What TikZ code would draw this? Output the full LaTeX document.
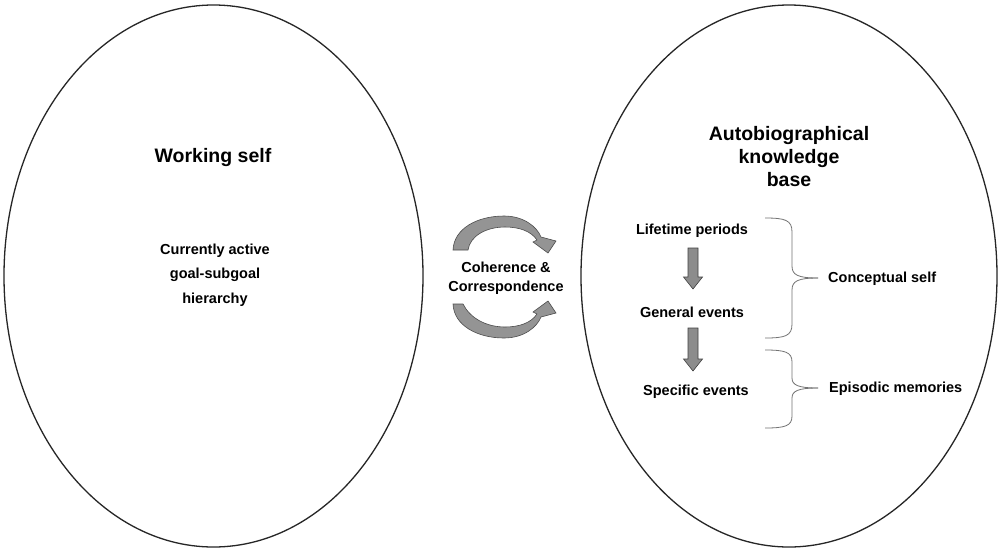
\documentclass[tikz,border=0pt]{standalone}
\usepackage{fontspec}
\setmainfont{Liberation Sans}
\begin{document}
\begin{tikzpicture}[x=1pt,y=-1pt,
  oval/.style={draw=black!85,line width=1.3pt},
  head/.style={font=\bfseries\fontsize{19.5}{23}\selectfont,align=center,inner sep=0pt},
  lbl/.style={font=\bfseries\fontsize{14.5}{24.5}\selectfont,align=center,inner sep=0pt},
  brace/.style={draw=black!55,line width=0.8pt},
  darrow/.style={fill=black!45,draw=black!75,line width=0.6pt},
  carrow/.style={fill=black!42,draw=black!70,line width=0.6pt}]
\useasboundingbox (0,0) rectangle (999,550);
\fill[white] (0,0) rectangle (999,550);
% ellipses
\draw[oval] (213.5,276) ellipse [x radius=209.5,y radius=271];
\draw[oval] (789,276) ellipse [x radius=208,y radius=271];
% left texts
\node[head] (ws) at (213,157) {Working self};
\node[lbl] (cur) at (215,275) {Currently active\\goal-subgoal\\hierarchy};
% right heading
\node[head] (akb) at (789,157) {Autobiographical\\knowledge\\base};
% centre
\node[lbl,font=\bfseries\fontsize{14.5}{19}\selectfont] (coh) at (506,278.5) {Coherence \&\\Correspondence};
% circular arrows
\draw[carrow] (453,250) .. controls (454,228) and (478,216) .. (504,216)
  .. controls (524,216) and (537,227) .. (541,237)
  -- (556,241) -- (548,253) -- (533,242) -- (537,240)
  .. controls (531,231) and (519,227) .. (505,227)
  .. controls (486,227) and (470,236) .. (468,250) -- cycle;
\draw[carrow] (453,304) .. controls (454,326) and (478,338) .. (504,338)
  .. controls (524,338) and (537,327) .. (541,317)
  -- (556,313) -- (548,301) -- (533,312) -- (537,314)
  .. controls (531,323) and (519,327) .. (505,327)
  .. controls (486,327) and (470,318) .. (463,304) -- cycle;
% knowledge levels
\node[lbl] (lp) at (692,231) {Lifetime periods};
\node[lbl] (ge) at (692,312) {General events};
\node[lbl] (se) at (696,392) {Specific events};
\draw[darrow] (688,248) -- (698,248) -- (698,277) -- (702.5,277) -- (693,289) -- (683.5,277) -- (688,277) -- cycle;
\draw[darrow] (688,328) -- (698,328) -- (698,359) -- (702.5,359) -- (693,371) -- (683.5,359) -- (688,359) -- cycle;
% braces
\draw[brace] (765,218) .. controls (785,218) and (792,220) .. (792,232) -- (792,266)
  .. controls (792,275) and (798,278) .. (818,278);
\draw[brace] (765,338) .. controls (785,338) and (792,336) .. (792,324) -- (792,290)
  .. controls (792,281) and (798,278) .. (818,278);
\draw[brace] (765,350) .. controls (785,350) and (792,352) .. (792,362) -- (792,378)
  .. controls (792,385) and (798,388) .. (818,388);
\draw[brace] (765,428) .. controls (785,428) and (792,426) .. (792,416) -- (792,398)
  .. controls (792,391) and (798,388) .. (818,388);
\node[lbl,anchor=west] (cs) at (828,279) {Conceptual self};
\node[lbl,anchor=west] (em) at (829,389) {Episodic memories};
\end{tikzpicture}
\end{document}
